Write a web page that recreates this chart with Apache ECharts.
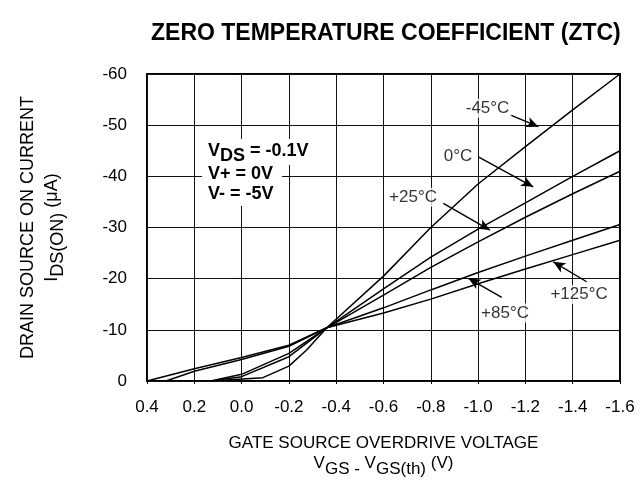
<!DOCTYPE html>
<html lang="en">
<head>
<meta charset="UTF-8">
<title>Zero Temperature Coefficient</title>
<script src="https://cdn.jsdelivr.net/npm/echarts/dist/echarts.min.js"></script>
</head>
<body style="margin:0">
<div id="main" style="width:641px;height:483px"></div>
<script>
// VGS - VGS(th) (V) vs IDS(ON) (uA), one pair of arrays per temperature
var xM45 = [0.13, -0.09, -0.2, -0.275, -0.36, -0.6, -0.8, -1.0, -1.2, -1.4, -1.6];
var yM45 = [0, -0.65, -2.9, -6.05, -10.4, -20.5, -30, -38.5, -45.8, -53, -60];

var x0 = [0.13, 0.0, -0.2, -0.36, -0.6, -0.8, -1.0, -1.2, -1.4, -1.6];
var y0 = [0, -0.85, -4.75, -10.4, -18.0, -24.2, -29.7, -34.8, -40.0, -45.0];

var x25 = [0.13, 0.0, -0.2, -0.36, -0.6, -0.8, -1.0, -1.2, -1.4, -1.6];
var y25 = [0, -1.3, -5.4, -10.4, -16.8, -22.2, -27.2, -32.0, -36.6, -41.0];

var x85 = [0.32, 0.2, 0.0, -0.2, -0.36, -0.6, -0.8, -1.0, -1.2, -1.4, -1.6];
var y85 = [0, -1.9, -4.2, -6.8, -10.4, -14.3, -17.8, -21.2, -24.4, -27.5, -30.6];

var x125 = [0.4, 0.2, 0.0, -0.2, -0.36, -0.6, -0.8, -1.0, -1.2, -1.4, -1.6];
var y125 = [0, -2.4, -4.6, -7.0, -10.4, -13.3, -16.0, -19.0, -21.9, -24.7, -27.5];

// curve labels and their arrows (data coordinates)
var tempNames = ['-45°C', '0°C', '+25°C', '+85°C', '+125°C'];
var labelX = [-1.04, -0.915, -0.725, -1.114, -1.427];
var labelY = [-53.3, -44.0, -35.9, -13.3, -16.9];
var arrowFromX = [-1.135, -1.001, -0.853, -1.100, -1.459];
var arrowFromY = [-52.0, -43.8, -34.7, -16.35, -19.4];
var arrowToX = [-1.255, -1.233, -1.050, -0.959, -1.318];
var arrowToY = [-49.7, -37.95, -29.5, -20.06, -23.3];

var FONT = 'Liberation Sans, Arial, Helvetica, sans-serif';

function pairs(xs, ys) {
    return xs.map(function (x, i) { return [x, ys[i]]; });
}

function curve(name, xs, ys) {
    return {
        name: name,
        type: 'line',
        data: pairs(xs, ys),
        symbol: 'none',
        smooth: false,
        lineStyle: { color: '#000', width: 1.5 },
        z: 3
    };
}

// bold test conditions; a white box behind each line hides the grid
var condRich = {
    b: { fontSize: 18, fontWeight: 'bold', fontFamily: FONT, fill: '#000', verticalAlign: 'top', lineHeight: 21 },
    s: { fontSize: 18, fontWeight: 'bold', fontFamily: FONT, fill: '#000', verticalAlign: 'top', lineHeight: 17, padding: [5, 0, 0, 0] }
};

function condLine(top, boxTop, boxW, boxH, txt) {
    return [
        { type: 'rect', z: 99, shape: { x: 202, y: boxTop, width: boxW, height: boxH }, style: { fill: '#fff' } },
        { type: 'text', x: 208, y: top, z: 100, style: { text: txt, rich: condRich } }
    ];
}

var chart = echarts.init(document.getElementById('main'));

var option = {
    animation: false,
    textStyle: { fontFamily: FONT, color: '#000' },
    title: {
        text: 'ZERO TEMPERATURE COEFFICIENT (ZTC)',
        left: 146,
        top: 17,
        textStyle: { fontFamily: FONT, fontSize: 23, fontWeight: 'bold', color: '#000' }
    },
    grid: {
        left: 147, right: 21, top: 74, bottom: 102,
        show: true, borderColor: '#000', borderWidth: 2,
        outerBoundsMode: 'none'
    },
    xAxis: {
        type: 'value',
        min: -1.6, max: 0.4, interval: 0.2,
        inverse: true,
        axisLine: { show: false },
        axisTick: { show: true, length: 3, lineStyle: { color: '#000' } },
        splitLine: { show: true, lineStyle: { color: '#111', width: 1 } },
        axisLabel: {
            margin: 18, fontSize: 17, color: '#000', fontFamily: FONT,
            formatter: function (v) { return v.toFixed(1); }
        },
        name: 'GATE SOURCE OVERDRIVE VOLTAGE\n{v|V}{s|GS - }{v|V}{s|GS(th)}{v| (V)}',
        nameLocation: 'middle',
        nameGap: 50,
        nameMoveOverlap: false,
        nameTextStyle: {
            fontSize: 17, color: '#000', fontFamily: FONT, lineHeight: 24,
            rich: {
                v: { fontSize: 17, fontFamily: FONT, color: '#000', verticalAlign: 'top', lineHeight: 24 },
                s: { fontSize: 17, fontFamily: FONT, color: '#000', verticalAlign: 'top', lineHeight: 24, padding: [6, 0, 0, 0] }
            }
        }
    },
    yAxis: {
        type: 'value',
        min: -60, max: 0, interval: 10,
        inverse: true,
        axisLine: { show: false },
        axisTick: { show: true, length: 3, lineStyle: { color: '#000' } },
        splitLine: { show: true, lineStyle: { color: '#111', width: 1 } },
        axisLabel: { margin: 20, fontSize: 17, color: '#000', fontFamily: FONT },
        name: 'DRAIN SOURCE ON CURRENT\n{v|I}{s|DS(ON)}{v| (μA)}',
        nameLocation: 'middle',
        nameGap: 75,
        nameMoveOverlap: false,
        nameTextStyle: {
            fontSize: 18, color: '#000', fontFamily: FONT, lineHeight: 29,
            rich: {
                v: { fontSize: 18, fontFamily: FONT, color: '#000', verticalAlign: 'top', lineHeight: 29 },
                s: { fontSize: 18, fontFamily: FONT, color: '#000', verticalAlign: 'top', lineHeight: 29, padding: [6, 0, 0, 0] }
            }
        }
    },
    graphic: [].concat(
        condLine(142, 139, 110, 26, '{b|V}{s|DS}{b| = -0.1V}'),
        condLine(165, 165, 80, 20, '{b|V+ = 0V}'),
        condLine(185, 185, 80, 21, '{b|V- = -5V}')
    ),
    series: [
        curve('-45°C', xM45, yM45),
        curve('0°C', x0, y0),
        curve('+25°C', x25, y25),
        curve('+85°C', x85, y85),
        curve('+125°C', x125, y125),
        {
            name: 'labels',
            type: 'scatter',
            symbolSize: 0,
            silent: true,
            z: 5,
            data: tempNames.map(function (n, i) {
                return { name: n, value: [labelX[i], labelY[i]] };
            }),
            label: {
                show: true, position: 'inside', formatter: '{b}',
                fontSize: 17, color: '#000', fontFamily: FONT,
                backgroundColor: '#fff', padding: [1, 2]
            },
            markLine: {
                silent: true,
                symbol: ['none', 'arrow'],
                symbolSize: [8, 12],
                lineStyle: { color: '#000', width: 1.4, type: 'solid' },
                label: { show: false },
                data: tempNames.map(function (n, i) {
                    return [
                        { coord: [arrowFromX[i], arrowFromY[i]] },
                        { coord: [arrowToX[i], arrowToY[i]] }
                    ];
                })
            }
        }
    ]
};

chart.setOption(option);
</script>
</body>
</html>
